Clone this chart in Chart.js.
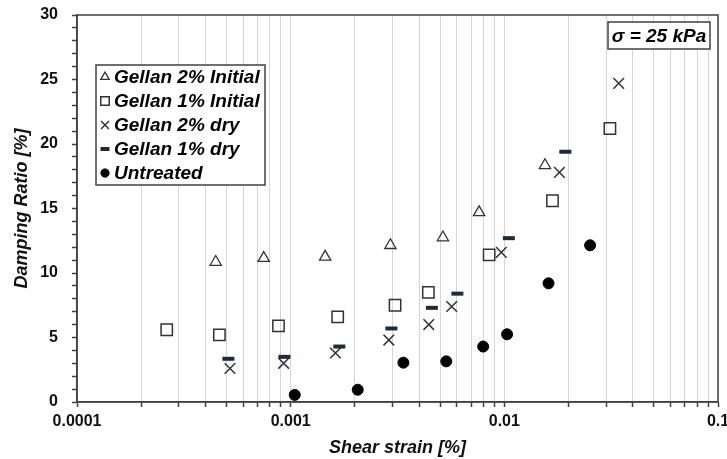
<!DOCTYPE html>
<html><head><meta charset="utf-8">
<script src="https://cdn.jsdelivr.net/npm/chart.js@4"></script>
<style>
html,body{margin:0;padding:0;overflow:hidden;background:#fff;width:727px;height:459px}
canvas{display:block}
</style></head>
<body><canvas id="c" width="760" height="459" style="width:760px;height:459px"></canvas>
<script>
// ---- data ----
const seriesNames = ['Gellan 2% Initial', 'Gellan 1% Initial', 'Gellan 2% dry', 'Gellan 1% dry', 'Untreated'];

const g2InitStrain = [0.000446, 0.000748, 0.00145, 0.00293, 0.00516, 0.00762, 0.0155];
const g2InitDamping = [10.85, 11.15, 11.25, 12.15, 12.75, 14.7, 18.35];

const g1InitStrain = [0.000263, 0.000464, 0.000877, 0.00166, 0.00308, 0.00441, 0.00849, 0.0168, 0.0312];
const g1InitDamping = [5.6, 5.2, 5.9, 6.6, 7.5, 8.5, 11.4, 15.6, 21.2];

const g2DryStrain = [0.00052, 0.000927, 0.00162, 0.00288, 0.00443, 0.00567, 0.00968, 0.0181, 0.0343];
const g2DryDamping = [2.6, 3.0, 3.8, 4.8, 6.0, 7.4, 11.6, 17.8, 24.7];

const g1DryStrain = [0.000511, 0.000935, 0.00169, 0.00296, 0.00458, 0.00603, 0.0105, 0.0193];
const g1DryDamping = [3.35, 3.5, 4.3, 5.7, 7.3, 8.4, 12.7, 19.4];

const untreatedStrain = [0.001045, 0.00206, 0.00337, 0.00535, 0.00796, 0.0103, 0.0161, 0.0252];
const untreatedDamping = [0.55, 0.95, 3.05, 3.15, 4.3, 5.25, 9.2, 12.15];

const xDecades = [0.0001, 0.001, 0.01, 0.1];
const xTickLabels = ['0.0001', '0.001', '0.01', '0.1'];
const yTickLabels = [0, 5, 10, 15, 20, 25, 30];

const xTitle = 'Shear strain [%]';
const yTitle = 'Damping Ratio [%]';
const noteText = '\u03C3 = 25 kPa';

// ---- styles ----
const FONT = "'Liberation Sans', Arial, sans-serif";
const DARK = '#404040';
const styles = [
  {pointStyle: 'triangle', radius: 6.5, borderWidth: 1.3, borderColor: '#333', backgroundColor: 'rgba(0,0,0,0)'},
  {pointStyle: 'rect', radius: 8, borderWidth: 1.5, borderColor: '#333', backgroundColor: 'rgba(0,0,0,0)'},
  {pointStyle: 'crossRot', radius: 7.5, borderWidth: 1.5, borderColor: '#333', backgroundColor: 'rgba(0,0,0,0)'},
  {pointStyle: 'line', radius: 6, borderWidth: 4, borderColor: '#1d2b3a', backgroundColor: '#1d2b3a'},
  {pointStyle: 'circle', radius: 5.5, borderWidth: 1, borderColor: '#000', backgroundColor: '#000'}
];
const xs = [g2InitStrain, g1InitStrain, g2DryStrain, g1DryStrain, untreatedStrain];
const ys = [g2InitDamping, g1InitDamping, g2DryDamping, g1DryDamping, untreatedDamping];

const datasets = seriesNames.map((name, i) => ({
  label: name,
  data: xs[i].map((x, j) => ({x: x, y: ys[i][j]})),
  showLine: false,
  pointStyle: styles[i].pointStyle,
  pointRadius: styles[i].radius,
  pointBorderWidth: styles[i].borderWidth,
  pointBorderColor: styles[i].borderColor,
  pointBackgroundColor: styles[i].backgroundColor,
  order: 5 - i
}));

function drawMarker(ctx, st, x, y) {
  ctx.save();
  ctx.strokeStyle = st.borderColor;
  ctx.fillStyle = st.backgroundColor;
  ctx.lineWidth = st.borderWidth;
  Chart.helpers.drawPoint(ctx, {pointStyle: st.pointStyle, radius: st.radius, rotation: 0, borderWidth: st.borderWidth}, x, y);
  ctx.restore();
}

const framePlugin = {
  id: 'frame',
  beforeDatasetsDraw(chart) {
    const {ctx, chartArea: a} = chart;
    ctx.save();
    ctx.strokeStyle = DARK;
    ctx.lineWidth = 1.5;
    ctx.strokeRect(a.left, a.top, a.right - a.left, a.bottom - a.top);
    ctx.restore();
  }
};

const legendPlugin = {
  id: 'boxLegend',
  afterDatasetsDraw(chart) {
    const ctx = chart.ctx;
    ctx.save();
    // legend box
    const bx = 96, by = 65, bw = 169, bh = 120;
    ctx.fillStyle = '#fff';
    ctx.fillRect(bx, by, bw, bh);
    ctx.strokeStyle = DARK;
    ctx.lineWidth = 1.5;
    ctx.strokeRect(bx, by, bw, bh);
    ctx.font = 'italic bold 19px ' + FONT;
    ctx.textBaseline = 'middle';
    ctx.textAlign = 'left';
    seriesNames.forEach((name, i) => {
      const y = 77 + i * 24;
      const st = Object.assign({}, styles[i]);
      st.radius = st.radius * 0.75;
      drawMarker(ctx, st, 105, y);
      ctx.fillStyle = '#000';
      ctx.fillText(name, 114, y + 1);
    });
    // note box
    const nx = 608, ny = 22, nw = 102, nh = 27;
    ctx.fillStyle = '#fff';
    ctx.fillRect(nx, ny, nw, nh);
    ctx.strokeStyle = DARK;
    ctx.lineWidth = 1.5;
    ctx.strokeRect(nx, ny, nw, nh);
    ctx.fillStyle = '#000';
    ctx.font = 'italic bold 19px ' + FONT;
    ctx.textAlign = 'center';
    ctx.fillText(noteText, nx + nw / 2, ny + nh / 2 + 1);
    ctx.restore();
  }
};

const xMultipliers = [1, 2, 3, 4, 5, 6, 7, 8, 9];

new Chart(document.getElementById('c'), {
  type: 'scatter',
  data: {datasets},
  options: {
    responsive: false,
    animation: false,
    events: [],
    layout: {padding: {left: 0, top: 15, right: 42, bottom: 0}},
    plugins: {legend: {display: false}, tooltip: {enabled: false}},
    scales: {
      x: {
        type: 'logarithmic',
        min: 0.0001, max: 0.1,
        afterBuildTicks(scale) {
          const t = [];
          xDecades.forEach((d, di) => {
            if (di === xDecades.length - 1) { t.push({value: d}); return; }
            xMultipliers.forEach(m => t.push({value: d * m}));
          });
          scale.ticks = t;
        },
        afterFit(scale) { scale.height = 57; },
        ticks: {
          autoSkip: false, maxRotation: 0, minRotation: 0,
          color: '#111', padding: 5,
          font: {family: FONT, size: 16, weight: 'bold'},
          callback(v) {
            const i = xDecades.findIndex(d => Math.abs(d - v) / d < 1e-6);
            return i >= 0 ? xTickLabels[i] : '';
          }
        },
        grid: {color: '#d6d6d6', lineWidth: 1, tickColor: DARK, tickLength: 5, tickWidth: 1.5},
        border: {color: DARK, width: 1.5},
        title: {display: true, text: xTitle, color: '#111', padding: {top: 0, bottom: 0},
          font: {family: FONT, size: 18, weight: 'bold', style: 'italic'}}
      },
      y: {
        min: 0, max: 30,
        afterFit(scale) { scale.width = 77; scale.paddingTop = 0; scale.paddingBottom = 0; },
        ticks: {
          stepSize: 1, autoSkip: false, color: '#111', padding: 14,
          font: {family: FONT, size: 16, weight: 'bold'},
          callback(v) { return yTickLabels.includes(v) ? String(v) : ''; }
        },
        grid: {drawOnChartArea: false, tickColor: DARK, tickLength: 5, tickWidth: 1.5},
        border: {color: DARK, width: 1.5},
        title: {display: true, text: yTitle, color: '#111', padding: {top: 11, bottom: 0},
          font: {family: FONT, size: 18, weight: 'bold', style: 'italic'}}
      }
    }
  },
  plugins: [framePlugin, legendPlugin]
});
</script>
</body></html>
